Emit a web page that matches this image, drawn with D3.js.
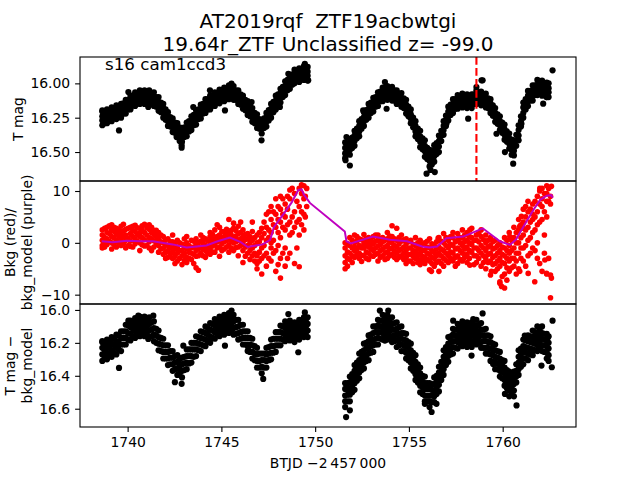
<!DOCTYPE html>
<html><head><meta charset="utf-8">
<script src="https://cdn.jsdelivr.net/npm/d3@7"></script>
<style>body{margin:0;background:#fff}text{font-family:"DejaVu Sans",sans-serif;white-space:pre}</style>
</head><body><svg id="c" width="640" height="480"></svg>
<script>
const titleLines = ["AT2019rqf  ZTF19acbwtgi", "19.64r_ZTF Unclassified z= -99.0"];
const panelNote = "s16 cam1ccd3";
const xTicks = [1740, 1745, 1750, 1755, 1760];
const topTicks = [16.00, 16.25, 16.50];
const midTicks = [-10, 0, 10];
const botTicks = [16.0, 16.2, 16.4, 16.6];
const xLabel = "BTJD \u22122\u2009457\u2009000";
const markerTime = 1758.6;

// top panel: T mag  [time, mag values...]
const tmag = [
[1738.65,16.205,16.24,16.27,16.305],[1738.90,16.19,16.225,16.26,16.29],[1739.15,16.175,16.21,16.245,16.275],
[1739.40,16.16,16.195,16.23,16.26],[1739.65,16.15,16.18,16.215,16.25],[1739.90,16.12,16.15,16.185,16.22],
[1740.15,16.09,16.12,16.155,16.19],[1740.40,16.065,16.10,16.13,16.165],[1740.65,16.05,16.085,16.12,16.15],
[1740.90,16.05,16.08,16.115,16.15],[1741.15,16.05,16.085,16.12,16.155],[1741.40,16.065,16.10,16.13,16.165],
[1741.65,16.10,16.135,16.165,16.20],[1741.90,16.15,16.18,16.215,16.25],[1742.15,16.21,16.245,16.275,16.31],
[1742.40,16.255,16.285,16.32,16.355],[1742.65,16.29,16.325,16.36,16.39],[1742.90,16.325,16.36,16.39,16.425],
[1743.15,16.285,16.32,16.35,16.385],[1743.40,16.24,16.275,16.305,16.34],[1743.65,16.195,16.23,16.265,16.30],
[1743.90,16.155,16.19,16.22,16.255],[1744.15,16.115,16.145,16.18,16.215],[1744.40,16.09,16.125,16.155,16.19],
[1744.65,16.065,16.095,16.13,16.165],[1744.90,16.045,16.08,16.11,16.145],[1745.15,16.03,16.06,16.095,16.13],
[1745.40,16.015,16.045,16.08,16.115],[1745.65,16.02,16.055,16.09,16.12],[1745.90,16.05,16.085,16.115,16.15],
[1746.15,16.09,16.12,16.155,16.185],[1746.40,16.13,16.165,16.195,16.23],[1746.65,16.18,16.21,16.245,16.28],
[1746.90,16.225,16.26,16.295,16.325],[1747.15,16.265,16.295,16.33,16.365],[1747.40,16.215,16.25,16.28,16.315],
[1747.65,16.15,16.185,16.215,16.25],[1747.90,16.09,16.125,16.16,16.19],[1748.15,16.04,16.07,16.105,16.14],
[1748.40,15.985,16.02,16.05,16.085],[1748.65,15.94,15.975,16.005,16.04],[1748.90,15.90,15.935,15.97,16.00],
[1749.15,15.89,15.92,15.955,15.99],[1749.40,15.875,15.91,15.945,15.975],[1749.60,15.88,15.915,15.945,15.98],
[1738.775,16.215,16.25,16.29],[1739.025,16.20,16.23,16.265],[1739.275,16.185,16.22,16.25],[1739.525,16.17,16.21,16.24],
[1739.775,16.145,16.19,16.22],[1740.025,16.12,16.15,16.19],[1740.275,16.09,16.13,16.16],[1740.525,16.07,16.11,16.14],
[1740.775,16.06,16.095,16.135],[1741.025,16.065,16.10,16.135],[1741.275,16.07,16.11,16.145],[1741.525,16.10,16.13,16.17],
[1741.775,16.14,16.175,16.21],[1742.025,16.19,16.23,16.265],[1742.275,16.245,16.28,16.315],[1742.525,16.285,16.32,16.36],
[1742.775,16.32,16.36,16.395,16.42],[1743.025,16.32,16.355,16.39],[1743.275,16.275,16.31,16.35],[1743.525,16.23,16.27,16.305],
[1743.775,16.19,16.225,16.26],[1744.025,16.15,16.185,16.22],[1744.275,16.115,16.15,16.19],[1744.525,16.09,16.125,16.16],
[1744.775,16.07,16.105,16.14],[1745.025,16.05,16.085,16.12],[1745.275,16.035,16.07,16.105],[1745.525,16.03,16.065,16.10],
[1745.775,16.05,16.085,16.12],[1746.025,16.08,16.12,16.155],[1746.275,16.12,16.16,16.195],[1746.525,16.17,16.205,16.24],
[1746.775,16.215,16.25,16.29],[1747.025,16.26,16.295,16.33],[1747.275,16.255,16.29,16.325],[1747.525,16.195,16.235,16.27],
[1747.775,16.135,16.17,16.21],[1748.025,16.08,16.115,16.15],[1748.275,16.025,16.06,16.10],[1748.525,15.975,16.01,16.05],
[1748.775,15.935,15.97,16.01],[1749.025,15.91,15.945,15.98],[1749.275,15.895,15.93,15.97],[1749.50,15.89,15.93,15.965],
[1751.60,16.43,16.47,16.51,16.545],[1751.85,16.405,16.445,16.485,16.52],[1752.10,16.345,16.38,16.42,16.455],
[1752.35,16.275,16.31,16.35,16.385],[1752.60,16.21,16.245,16.275,16.31],[1752.85,16.15,16.185,16.215,16.25],
[1753.10,16.105,16.14,16.17,16.205],[1753.35,16.065,16.095,16.13,16.165],[1753.60,16.03,16.06,16.095,16.13],
[1753.85,16.02,16.05,16.085,16.12],[1754.10,16.025,16.06,16.09,16.125],[1754.35,16.05,16.085,16.115,16.15],
[1754.60,16.07,16.105,16.135,16.17],[1754.85,16.12,16.155,16.185,16.22],[1755.10,16.19,16.225,16.255,16.29],
[1755.35,16.275,16.31,16.35,16.385],[1755.60,16.345,16.385,16.425,16.465],[1755.85,16.415,16.455,16.495,16.535],
[1756.10,16.485,16.525,16.565,16.605],[1756.35,16.45,16.49,16.53,16.57],[1756.60,16.38,16.42,16.46,16.50],
[1756.85,16.275,16.31,16.34,16.375],[1757.10,16.17,16.205,16.235,16.27],[1757.35,16.115,16.15,16.18,16.215],
[1757.60,16.085,16.12,16.15,16.185],[1757.85,16.075,16.11,16.14,16.175],[1758.10,16.08,16.11,16.145,16.18],
[1758.35,16.08,16.115,16.145,16.18],[1758.60,16.05,16.085,16.115,16.15],[1758.85,16.06,16.09,16.125,16.16],
[1759.10,16.075,16.11,16.14,16.175],[1759.35,16.115,16.145,16.18,16.215],[1759.60,16.18,16.215,16.245,16.28],
[1759.85,16.24,16.275,16.305,16.34],[1760.10,16.30,16.335,16.375,16.41],[1760.35,16.365,16.40,16.44,16.475],
[1760.60,16.415,16.45,16.49,16.525],[1760.85,16.305,16.34,16.38,16.415],[1761.10,16.14,16.175,16.215,16.25],
[1761.35,16.055,16.09,16.13,16.165],[1761.60,16.015,16.05,16.09,16.125],[1761.85,15.975,16.01,16.05,16.085],
[1762.10,15.98,16.015,16.055,16.09],[1762.35,15.995,16.03,16.065,16.10],[1762.45,16.00,16.035,16.065,16.10],
[1751.725,16.44,16.475,16.515],[1751.975,16.395,16.43,16.47],[1752.225,16.33,16.365,16.40],[1752.475,16.26,16.295,16.33],
[1752.725,16.195,16.23,16.265],[1752.975,16.14,16.18,16.215],[1753.225,16.10,16.135,16.17],[1753.475,16.06,16.095,16.13],
[1753.725,16.035,16.075,16.11],[1753.975,16.035,16.07,16.105],[1754.225,16.05,16.085,16.125],[1754.475,16.075,16.11,16.145],
[1754.725,16.11,16.145,16.18],[1754.975,16.17,16.205,16.24],[1755.225,16.25,16.285,16.32],[1755.475,16.33,16.37,16.405],
[1755.725,16.40,16.44,16.48],[1755.975,16.47,16.51,16.55],[1756.225,16.49,16.53,16.57,16.59],[1756.475,16.435,16.475,16.515],
[1756.725,16.345,16.38,16.42],[1756.975,16.235,16.27,16.31],[1757.225,16.155,16.19,16.23],[1757.475,16.115,16.15,16.185],
[1757.725,16.095,16.13,16.165],[1757.975,16.09,16.125,16.165],[1758.225,16.095,16.13,16.165],[1758.475,16.08,16.115,16.15],
[1758.725,16.07,16.105,16.14],[1758.975,16.08,16.115,16.15],[1759.225,16.11,16.145,16.18],[1759.475,16.16,16.195,16.235],
[1759.725,16.225,16.26,16.295],[1759.975,16.285,16.32,16.36],[1760.225,16.35,16.39,16.425],[1760.475,16.41,16.445,16.485,16.52],
[1760.725,16.375,16.415,16.455],[1760.975,16.24,16.275,16.315],[1761.225,16.115,16.15,16.19],[1761.475,16.055,16.09,16.125],
[1761.725,16.015,16.05,16.085],[1761.975,15.995,16.03,16.07],[1762.225,16.005,16.04,16.08],
[1739.54,16.343],[1742.88,16.45],[1758.93,15.978],[1762.66,15.905],[1751.62,16.56],[1756.15,16.63],
[1738.65,16.197],[1740.04,16.063],[1741.10,16.172],[1742.61,16.391],[1742.88,16.469],[1743.50,16.172],
[1744.39,16.051],[1745.19,16.197],[1745.54,16.002],[1746.61,16.136],[1746.70,16.27],[1747.14,16.415],
[1747.41,16.245],[1748.12,16.172],[1748.57,15.93],[1749.45,15.857],[1749.63,15.978],
[1751.67,16.391],[1751.85,16.598],[1752.56,16.197],[1753.72,15.99],[1753.81,16.185],[1755.05,16.233],
[1755.94,16.658],[1756.38,16.646],[1756.65,16.391],[1757.00,16.294],[1758.07,16.172],[1758.16,16.257],
[1758.87,15.978],[1758.60,16.027],[1759.67,16.367],[1760.12,16.50],[1760.56,16.585],[1761.00,16.294],
[1762.16,16.148],[1762.34,16.10]
];

// middle panel: background (red)  [time, values...]
const bkg = [
[1738.65,1.5,0.5,-0.5,2.5,-1.0],[1738.90,0.8,2.0,-0.3,3.0],[1739.15,1.2,0.0,2.5,-1.2,3.5],
[1739.40,0.5,1.8,-0.8,2.8],[1739.65,1.0,3.2,-0.5,0.2,2.0],[1739.90,0.5,1.5,-1.0,2.6],
[1740.15,1.8,0.3,3.0,-0.7],[1740.40,0.8,2.2,-0.2,3.4],[1740.65,1.2,0.0,2.8,-1.5,1.9],
[1740.90,0.6,2.0,-0.6,3.6],[1741.15,1.0,0.2,2.6,-1.0,3.5],[1741.40,0.4,1.6,-0.8,2.4],
[1741.65,-0.5,1.0,0.5,2.0,-1.8],[1741.90,-1.0,0.0,-2.2,1.2],[1742.15,-1.5,-0.5,0.8,-2.8],
[1742.40,-1.8,-0.8,0.2,-3.0,1.5],[1742.65,-2.0,-1.0,-3.5,0.5],[1742.90,-1.5,-2.5,-0.3,-4.2],
[1743.15,-1.2,-2.8,0.0,-3.8,1.2],[1743.40,-1.0,-2.0,0.5,-3.2],[1743.65,-1.5,-0.2,-2.6,-4.8,0.8],
[1743.90,-0.8,-2.0,0.3,1.5],[1744.15,-0.5,-1.5,0.8,-2.8],[1744.40,0.0,-1.2,1.2,-2.2,2.0],
[1744.65,-0.3,0.8,-1.8,2.5],[1744.90,0.5,-0.8,1.5,-2.6,3.0],[1745.15,0.2,1.2,-1.2,2.2],
[1745.40,0.8,-0.4,2.0,-1.8,4.5],[1745.65,1.0,0.0,2.8,-1.5,3.8],[1745.90,0.5,1.8,-0.8,3.2,-2.5],
[1746.15,0.0,1.2,-1.5,2.5,-3.8],[1746.40,-0.5,0.8,-2.0,1.8],[1746.65,-1.0,0.5,-2.5,2.2,4.0],
[1746.90,-2.5,0.0,-4.0,1.5,-5.0],[1747.15,-1.0,1.0,-3.0,2.8,-6.0],[1747.40,0.5,-2.0,3.0,-4.5,5.5],
[1747.65,2.0,-1.0,4.5,-3.5,7.0,0.0],[1747.90,3.0,5.5,-1.5,8.5,-5.5],[1748.15,1.0,4.0,6.5,-3.0,9.0,-6.8],
[1748.40,2.5,5.0,-1.0,7.5,-4.5],[1748.65,4.0,8.5,1.5,10.2,-2.0],[1748.90,6.0,9.5,3.0,-4.0],
[1749.15,7.0,10.5,4.5,1.5,-4.6],[1749.40,8.5,11.0,5.5,2.5],[1749.55,10.5,7.0],
[1738.775,1.0,2.8,-0.8,0.0],[1739.025,1.8,0.3,3.3],[1739.275,2.2,-0.3,1.0,3.0],[1739.525,0.0,2.5,1.3],
[1739.775,2.3,-0.2,1.2,3.6],[1740.025,0.9,2.8,-0.5],[1740.275,2.4,1.2,-0.8,3.2],[1740.525,0.3,1.6,2.9],
[1740.775,2.4,-0.4,1.0,3.3],[1741.025,1.5,-0.5,2.9],[1741.275,0.8,2.0,-1.5,3.0],[1741.525,1.2,-0.2,2.4],
[1741.775,0.2,-1.2,1.5],[1742.025,-0.4,-1.8,0.6,-3.0],[1742.275,-1.0,-2.2,0.2],[1742.525,-1.2,-2.6,-0.2,-4.0],
[1742.775,-1.5,-3.0,0.0],[1743.025,-2.0,-0.8,-3.4,0.8],[1743.275,-1.8,-0.5,-3.0],[1743.525,-2.2,-0.8,0.3,-4.0],
[1743.775,-1.2,-2.5,0.0,-5.3],[1744.025,-1.2,0.0,-2.5,1.0],[1744.275,-0.8,0.4,-2.0],[1744.525,-0.6,0.6,-1.8,1.6],
[1744.775,0.2,-1.0,1.2,3.5],[1745.025,-0.2,0.9,-1.5,2.2],[1745.275,0.5,1.6,-0.8,2.6],[1745.525,0.4,1.5,-1.0,2.4],
[1745.775,1.3,0.2,2.4,-0.9],[1746.025,0.8,-0.5,2.0,4.0],[1746.275,-0.8,0.6,-2.6,1.6],[1746.525,-1.5,0.0,-3.2,1.2],
[1746.775,-2.0,-0.5,1.0,-3.5],[1747.025,-1.8,0.2,-3.5,2.0],[1747.275,-0.5,1.8,-2.5,4.0],[1747.525,1.0,-3.0,2.5,6.0],
[1747.775,0.5,3.5,-2.0,6.0],[1748.025,2.0,7.0,-0.5,4.5,-4.2],[1748.275,3.0,8.5,-2.0,5.5],[1748.525,3.5,6.5,9.0,-3.0],
[1748.775,5.0,2.0,10.5],[1749.025,8.0,4.0,-1.0],[1749.275,9.5,6.0,3.5,11.2],[1749.475,9.0,5.0],
[1751.60,-1.0,-2.5,0.0,-3.8,-5.0],[1751.85,-0.5,-2.0,1.0,-3.2],[1752.10,0.0,-1.5,1.5,-2.8,-0.8],
[1752.35,-0.5,-2.0,0.8,-3.0],[1752.60,0.5,-1.0,-2.5,1.6,-0.2],[1752.85,-0.8,0.2,-2.0,1.0,-3.2],
[1753.10,-0.2,-1.5,1.2,-2.6],[1753.35,-0.6,0.5,-2.0,1.5,-3.5],[1753.60,0.2,-1.2,-2.5,1.0],
[1753.85,-0.5,0.8,-1.8,2.0,-3.0],[1754.10,-1.0,0.0,-2.2,1.2,3.3],[1754.35,-0.8,-2.0,0.5,-3.2,2.8],
[1754.60,-1.2,0.3,-2.5,1.5],[1754.85,-1.5,-0.2,-2.8,0.8,-4.0],[1755.10,-1.0,-2.2,0.5,-3.5],
[1755.35,-1.8,-0.5,-3.0,1.0],[1755.60,-2.0,-0.8,-3.3,0.5,-4.2],[1755.85,-1.5,-2.8,0.0,-4.0],
[1756.10,-2.2,-1.0,-3.5,0.8,-5.2],[1756.35,-1.8,-3.0,-0.5,-4.5],[1756.60,-2.0,-0.8,-3.5,1.0,-5.5],
[1756.85,-1.5,-3.0,0.0,-4.5,1.8],[1757.10,-1.0,-2.5,0.5,-3.8],[1757.35,-0.5,-2.0,1.0,-3.5,2.0],
[1757.60,-1.0,0.5,-2.5,1.8,-4.0],[1757.85,-0.5,1.0,-2.0,2.5,-3.5],[1758.10,-0.8,0.5,-2.2,2.0,-3.8],
[1758.35,-0.3,1.0,-1.8,2.8],[1758.60,-1.0,0.5,-2.5,1.5,-3.8],[1758.85,-0.5,1.2,-2.0,2.5,-4.5],
[1759.10,-1.5,0.0,-3.0,1.5,-5.0],[1759.35,-2.0,-0.5,-3.5,1.0,-6.2],[1759.60,-2.5,-1.0,-4.0,0.5,-5.5],
[1759.85,-3.0,-1.5,-4.5,0.0,-7.5],[1760.10,-2.5,-1.0,-4.0,1.0,-8.7,-6.0],[1760.35,-2.0,-0.5,-3.5,2.0,-5.5],
[1760.60,-1.0,1.0,-3.0,3.0,-4.5],[1760.85,0.0,2.5,-2.0,4.5,-5.0],[1761.10,1.5,4.0,-1.0,6.5,-3.5,2.8],
[1761.35,3.0,6.0,0.5,8.0,-2.5],[1761.60,4.5,7.5,2.0,-1.0,5.5],[1761.85,6.0,9.0,3.5,0.0,-3.0],
[1762.10,7.0,10.5,4.5,-5.5,8.5],[1762.35,8.0,11.0,5.0,-6.0,9.5],[1762.55,9.0,7.5,-10.6,-6.2],
[1751.725,-1.8,-0.2,-3.0,-4.5],[1751.975,-1.0,0.5,-2.5,-3.8],[1752.225,-1.2,0.3,-2.2,1.2],[1752.475,-1.0,0.6,-2.4,-3.6],
[1752.725,-0.5,-1.8,0.8,-3.0],[1752.975,-1.2,0.5,-2.5,-0.3],[1753.225,-1.0,0.3,-2.2,1.5],[1753.475,-1.5,-0.3,-2.8,0.8],
[1753.725,-0.8,0.5,-2.0,-3.2],[1753.975,-1.2,0.2,-2.5,1.3],[1754.225,-0.5,-1.6,0.8,-2.8],[1754.475,-1.5,-0.2,-2.8,1.0],
[1754.725,-0.8,-2.0,0.6,-3.2],[1754.975,-1.0,-2.3,0.2,-3.5],[1755.225,-1.5,-0.3,-2.6,-4.0],[1755.475,-1.2,-2.5,0.0,-3.8],
[1755.725,-1.5,-2.6,-0.3,-3.6],[1755.975,-2.0,-0.8,-3.2,0.3],[1756.225,-1.5,-2.8,-0.2,-4.0],[1756.475,-2.5,-1.2,-3.8,0.2],
[1756.725,-1.2,-2.5,0.3,-4.0],[1756.975,-2.0,-0.5,-3.4,1.0],[1757.225,-1.8,-0.3,-3.0,1.2],[1757.475,-1.2,0.2,-2.8,-4.5],
[1757.725,-1.5,0.0,-3.2,1.0],[1757.975,-1.2,0.2,-2.8,1.5],[1758.225,-1.5,0.0,-3.0,1.2],[1758.475,-1.0,0.5,-2.5,-4.2],
[1758.725,-1.5,0.2,-3.0,1.8],[1758.975,-1.0,-2.5,0.6,-3.8],[1759.225,-2.2,-0.8,-3.8,0.5],[1759.475,-2.8,-1.2,-4.2,0.2],
[1759.725,-2.0,-3.5,-0.5,-5.0],[1759.975,-2.2,-3.8,-0.8,-6.5],[1760.225,-3.0,-1.5,-4.8,0.5,-7.2],[1760.475,-1.5,-3.0,0.5,-4.8],
[1760.725,-2.0,0.0,2.0,-3.5,-6.0],[1760.975,1.0,-1.0,3.5,-3.0],[1761.225,2.5,5.0,-0.5,7.0,-4.5],[1761.475,4.0,1.0,6.5,-2.0],
[1761.725,5.0,8.0,2.5,-1.5],[1761.975,7.5,4.0,10.0,-4.0],[1762.225,9.5,6.0,1.5,-2.0],[1762.45,10.5,8.0,-3.0],
[1759.85,-7.8],[1759.94,-8.4],[1761.98,10.5],[1762.60,10.9],[1762.25,-3.3],[1762.34,-5.9],[1762.60,-6.8],
[1761.71,-7.5],[1760.91,-5.5],[1761.36,-5.9],[1761.00,5.1],[1760.91,3.2],[1760.38,1.2],[1758.25,2.5],
[1756.56,0.9],[1759.40,-5.5],[1758.25,-4.3],[1756.20,-5.5]
];

// middle panel: background model (purple)
const bkgModelTime = [1738.62,1739.2,1739.95,1740.66,1741.35,1742.4,1743.15,1743.68,1744.2,1744.8,1745.46,1746.0,1746.4,1747.2,1747.6,1747.8,1748.3,1748.75,1749.1,1749.28,1749.4,1749.72,1751.58,1751.67,1751.9,1753.08,1754.0,1754.9,1755.7,1756.1,1756.5,1757.0,1757.9,1758.94,1759.3,1759.85,1760.38,1760.7,1761.27,1761.7,1762.0,1762.35,1762.6,1762.67];
const bkgModel =     [0.3,0.1,0.4,0.3,0.3,-0.3,-0.9,-0.7,-0.5,0.3,1.0,0.2,-0.8,-0.3,0.6,3.0,5.5,7.8,10.2,10.3,9.3,7.7,2.2,0.3,-0.1,1.2,0.6,0.3,-0.7,-0.9,-0.7,0.9,1.2,2.8,1.8,0.3,-0.4,0.6,4.1,6.7,8.3,9.1,9.2,8.7];

// bottom panel: T mag - bkg_model
const tmagCorr = [
[1738.65,16.19,16.23,16.27,16.31],[1738.90,16.18,16.22,16.26,16.30],[1739.15,16.165,16.205,16.245,16.285],
[1739.40,16.15,16.19,16.23,16.27],[1739.65,16.13,16.17,16.21,16.25],[1739.90,16.09,16.13,16.17,16.21],
[1740.15,16.065,16.105,16.145,16.185],[1740.40,16.05,16.09,16.13,16.17],[1740.65,16.04,16.08,16.12,16.16],
[1740.90,16.04,16.08,16.12,16.16],[1741.15,16.045,16.085,16.125,16.165],[1741.40,16.07,16.11,16.15,16.19],
[1741.65,16.125,16.165,16.205,16.245],[1741.90,16.175,16.215,16.255,16.295],[1742.15,16.215,16.255,16.295,16.335],
[1742.40,16.25,16.29,16.33,16.37],[1742.65,16.275,16.315,16.355,16.395],[1742.90,16.29,16.33,16.37,16.41],
[1743.15,16.24,16.28,16.32,16.36],[1743.40,16.20,16.24,16.28,16.32],[1743.65,16.16,16.20,16.24,16.28],
[1743.90,16.13,16.17,16.21,16.25],[1744.15,16.10,16.14,16.18,16.22],[1744.40,16.08,16.12,16.16,16.20],
[1744.65,16.055,16.095,16.135,16.175],[1744.90,16.04,16.08,16.12,16.16],[1745.15,16.03,16.07,16.11,16.15],
[1745.40,16.02,16.06,16.10,16.14],[1745.65,16.03,16.07,16.11,16.15],[1745.90,16.06,16.10,16.14,16.18],
[1746.15,16.09,16.13,16.17,16.21],[1746.40,16.13,16.17,16.21,16.25],[1746.65,16.175,16.215,16.255,16.295],
[1746.90,16.23,16.27,16.31,16.35],[1747.15,16.265,16.305,16.345,16.385],[1747.40,16.23,16.27,16.31,16.35],
[1747.65,16.18,16.22,16.26,16.30],[1747.90,16.135,16.175,16.215,16.255],[1748.15,16.095,16.135,16.175,16.215],
[1748.40,16.07,16.11,16.15,16.19],[1748.65,16.065,16.105,16.145,16.185],[1748.90,16.075,16.115,16.155,16.195],
[1749.15,16.06,16.10,16.14,16.18],[1749.40,16.045,16.085,16.125,16.165],[1749.60,16.045,16.085,16.125,16.165],
[1738.775,16.205,16.245,16.285],[1739.025,16.19,16.23,16.27],[1739.275,16.175,16.215,16.26],[1739.525,16.155,16.20,16.24],
[1739.775,16.13,16.17,16.21],[1740.025,16.095,16.14,16.18],[1740.275,16.075,16.115,16.16],[1740.525,16.065,16.105,16.145],
[1740.775,16.06,16.10,16.14],[1741.025,16.06,16.10,16.145],[1741.275,16.075,16.12,16.16],[1741.525,16.115,16.155,16.20],
[1741.775,16.17,16.21,16.25],[1742.025,16.215,16.255,16.295],[1742.275,16.25,16.29,16.33],[1742.525,16.28,16.32,16.36],
[1742.775,16.30,16.34,16.385],[1743.025,16.285,16.325,16.365],[1743.275,16.24,16.28,16.325],[1743.525,16.20,16.24,16.285],
[1743.775,16.165,16.205,16.245],[1744.025,16.135,16.175,16.215],[1744.275,16.11,16.15,16.19],[1744.525,16.085,16.125,16.17],
[1744.775,16.07,16.11,16.15],[1745.025,16.05,16.095,16.135],[1745.275,16.045,16.085,16.125],[1745.525,16.045,16.085,16.13],
[1745.775,16.06,16.105,16.145],[1746.025,16.09,16.135,16.175],[1746.275,16.13,16.17,16.21],[1746.525,16.17,16.21,16.255],
[1746.775,16.22,16.265,16.305],[1747.025,16.265,16.31,16.35],[1747.275,16.265,16.305,16.35],[1747.525,16.225,16.265,16.305],
[1747.775,16.175,16.22,16.26],[1748.025,16.135,16.175,16.215],[1748.275,16.10,16.14,16.18],[1748.525,16.085,16.125,16.17],
[1748.775,16.09,16.13,16.17],[1749.025,16.085,16.125,16.17],[1749.275,16.07,16.115,16.155],[1749.50,16.065,16.105,16.145],
[1751.60,16.445,16.48,16.52,16.555,16.59],[1751.85,16.405,16.44,16.48,16.515,16.555],[1752.10,16.335,16.37,16.41,16.445,16.485],
[1752.35,16.265,16.305,16.34,16.38,16.415],[1752.60,16.205,16.245,16.28,16.32,16.355],[1752.85,16.155,16.19,16.23,16.265,16.305],
[1753.10,16.10,16.14,16.18,16.215,16.255],[1753.35,16.06,16.095,16.135,16.17,16.21],[1753.60,16.03,16.065,16.105,16.14,16.18],
[1753.85,16.03,16.07,16.105,16.145,16.18],[1754.10,16.045,16.085,16.12,16.16,16.195],[1754.35,16.075,16.115,16.15,16.185,16.225],
[1754.60,16.10,16.14,16.175,16.21,16.25],[1754.85,16.145,16.185,16.22,16.26,16.295],[1755.10,16.205,16.245,16.28,16.32,16.355],
[1755.35,16.275,16.315,16.35,16.39,16.425],[1755.60,16.35,16.385,16.425,16.46,16.50],[1755.85,16.405,16.445,16.48,16.52,16.555],
[1756.10,16.445,16.48,16.52,16.555,16.59],[1756.35,16.41,16.45,16.49,16.525,16.56],[1756.60,16.345,16.38,16.42,16.455,16.495],
[1756.85,16.245,16.285,16.32,16.36,16.395],[1757.10,16.165,16.205,16.24,16.28,16.315],[1757.35,16.115,16.15,16.19,16.225,16.265],
[1757.60,16.085,16.12,16.16,16.195,16.235],[1757.85,16.07,16.105,16.145,16.18,16.22],[1758.10,16.075,16.115,16.15,16.19,16.225],
[1758.35,16.075,16.115,16.15,16.19,16.225],[1758.60,16.06,16.10,16.135,16.175,16.21],[1758.85,16.08,16.12,16.155,16.195,16.23],
[1759.10,16.115,16.155,16.19,16.23,16.265],[1759.35,16.16,16.195,16.235,16.27,16.31],[1759.60,16.21,16.245,16.285,16.32,16.36],
[1759.85,16.255,16.295,16.33,16.37,16.405],[1760.10,16.31,16.35,16.385,16.425,16.46],[1760.35,16.375,16.415,16.45,16.49,16.525],
[1760.60,16.375,16.415,16.45,16.49,16.525],[1760.85,16.245,16.285,16.32,16.36,16.395],[1761.10,16.18,16.22,16.255,16.295,16.33],
[1761.35,16.155,16.19,16.23,16.265,16.305],[1761.60,16.125,16.165,16.20,16.24,16.275],[1761.85,16.10,16.14,16.175,16.215,16.25],
[1762.10,16.10,16.14,16.175,16.215,16.25],[1762.35,16.145,16.185,16.22,16.26,16.295],[1762.45,16.16,16.20,16.235,16.275,16.31],
[1751.725,16.445,16.48,16.515,16.555],[1751.975,16.39,16.425,16.46,16.50],[1752.225,16.32,16.36,16.395,16.43],
[1752.475,16.255,16.295,16.33,16.365],[1752.725,16.20,16.235,16.275,16.31],[1752.975,16.15,16.185,16.22,16.26],
[1753.225,16.10,16.135,16.175,16.21],[1753.475,16.065,16.10,16.135,16.175],[1753.725,16.05,16.085,16.12,16.16],
[1753.975,16.06,16.095,16.13,16.17],[1754.225,16.08,16.12,16.155,16.19],[1754.475,16.105,16.145,16.18,16.215],
[1754.725,16.14,16.18,16.215,16.25],[1754.975,16.195,16.23,16.27,16.305],[1755.225,16.26,16.295,16.335,16.37],
[1755.475,16.33,16.37,16.405,16.44],[1755.725,16.40,16.435,16.47,16.51],[1755.975,16.445,16.48,16.52,16.555],
[1756.225,16.45,16.485,16.52,16.56],[1756.475,16.40,16.435,16.47,16.51],[1756.725,16.315,16.35,16.39,16.425],
[1756.975,16.225,16.26,16.30,16.335],[1757.225,16.16,16.195,16.235,16.27],[1757.475,16.12,16.155,16.19,16.23],
[1757.725,16.095,16.135,16.17,16.205],[1757.975,16.09,16.13,16.165,16.20],[1758.225,16.095,16.13,16.17,16.205],
[1758.475,16.09,16.125,16.16,16.20],[1758.725,16.09,16.13,16.165,16.20],[1758.975,16.12,16.155,16.19,16.23],
[1759.225,16.155,16.195,16.23,16.265],[1759.475,16.205,16.24,16.275,16.315],[1759.725,16.25,16.29,16.325,16.36],
[1759.975,16.305,16.34,16.375,16.415],[1760.225,16.365,16.40,16.435,16.475],[1760.475,16.395,16.435,16.47,16.505],
[1760.725,16.33,16.37,16.405,16.44],[1760.975,16.235,16.27,16.305,16.345],[1761.225,16.185,16.225,16.26,16.295],
[1761.475,16.16,16.195,16.235,16.27],[1761.725,16.135,16.17,16.205,16.245],[1761.975,16.12,16.16,16.195,16.23],
[1762.225,16.145,16.18,16.215,16.255],
[1751.65,16.651],[1758.43,16.055],[1758.93,16.021],[1762.66,16.065],[1762.62,16.348],[1739.54,16.352],
[1738.65,16.196],[1740.04,16.065],[1740.57,16.035],[1741.37,16.035],[1741.10,16.176],[1742.52,16.439],
[1742.88,16.449],[1742.97,16.217],[1745.19,16.217],[1745.54,16.004],[1745.10,16.105],[1746.43,16.227],
[1747.23,16.419],[1748.57,16.025],[1749.10,16.257],[1749.45,16.015],
[1751.85,16.61],[1753.45,16.004],[1753.90,16.004],[1753.72,16.186],[1755.85,16.57],[1756.21,16.62],
[1756.47,16.57],[1757.36,16.065],[1758.34,16.277],[1759.49,16.328],[1760.12,16.51],[1760.74,16.58],
[1761.18,16.156],[1762.07,16.338],[1762.42,16.166]
];

const svg = d3.select("#c");
const L = 80, R = 576;
const x = d3.scaleLinear().domain([1737.46, 1763.91]).range([L, R]);
const yTop = d3.scaleLinear().domain([15.808, 16.711]).range([57, 181]);
const yMid = d3.scaleLinear().domain([11.93, -11.8]).range([181, 304]);
const yBot = d3.scaleLinear().domain([15.964, 16.711]).range([304, 427]);

const flat = rows => rows.flatMap(r => r.slice(1).map(v => [r[0], v]));

function panel(id, y0, y1) {
  svg.append("clipPath").attr("id", id).append("rect")
    .attr("x", L).attr("y", y0).attr("width", R - L).attr("height", y1 - y0);
  return svg.append("g").attr("clip-path", `url(#${id})`);
}

// top
const gTop = panel("cTop", 57, 181);
gTop.selectAll("circle").data(flat(tmag)).join("circle")
  .attr("cx", d => x(d[0])).attr("cy", d => yTop(d[1])).attr("r", 3.1).attr("fill", "#000");
gTop.append("line").attr("x1", x(markerTime)).attr("x2", x(markerTime)).attr("y1", 57).attr("y2", 181)
  .attr("stroke", "#ff0000").attr("stroke-width", 2.1).attr("stroke-dasharray", "7.7,3.3");

// middle
const gMid = panel("cMid", 181, 304);
gMid.selectAll("circle").data(flat(bkg)).join("circle")
  .attr("cx", d => x(d[0])).attr("cy", d => yMid(d[1])).attr("r", 2.8).attr("fill", "#ff0000");
gMid.append("path").datum(bkgModelTime.map((t, i) => [t, bkgModel[i]]))
  .attr("d", d3.line().x(d => x(d[0])).y(d => yMid(d[1])))
  .attr("fill", "none").attr("stroke", "#bf00bf").attr("stroke-width", 2);

// bottom
const gBot = panel("cBot", 304, 427);
gBot.selectAll("circle").data(flat(tmagCorr)).join("circle")
  .attr("cx", d => x(d[0])).attr("cy", d => yBot(d[1])).attr("r", 3.1).attr("fill", "#000");

// axes
function styleAxis(g) {
  g.selectAll("text").attr("font-size", "13.9px").attr("font-family", "DejaVu Sans").attr("fill", "#000");
  g.selectAll("line").attr("stroke", "#000").attr("stroke-width", 1.1);
  g.select(".domain").remove();
}
svg.append("g").attr("transform", `translate(${L},0)`)
  .call(d3.axisLeft(yTop).tickValues(topTicks).tickFormat(d3.format(".2f")).tickSize(4.9).tickPadding(4.9)).call(styleAxis);
svg.append("g").attr("transform", `translate(${L},0)`)
  .call(d3.axisLeft(yMid).tickValues(midTicks).tickFormat(d3.format("d")).tickSize(4.9).tickPadding(4.9)).call(styleAxis);
svg.append("g").attr("transform", `translate(${L},0)`)
  .call(d3.axisLeft(yBot).tickValues(botTicks).tickFormat(d3.format(".1f")).tickSize(4.9).tickPadding(4.9)).call(styleAxis);
svg.append("g").attr("transform", `translate(0,427)`)
  .call(d3.axisBottom(x).tickValues(xTicks).tickFormat(d3.format("d")).tickSize(4.9).tickPadding(4.9)).call(styleAxis);

// frames
[[57, 181], [181, 304], [304, 427]].forEach(([a, b]) => {
  svg.append("rect").attr("x", L).attr("y", a).attr("width", R - L).attr("height", b - a)
    .attr("fill", "none").attr("stroke", "#000").attr("stroke-width", 1.1);
});

// texts
svg.append("text").attr("x", 328).attr("y", 27.5).attr("text-anchor", "middle").attr("font-size", "20px").text(titleLines[0]);
svg.append("text").attr("x", 328).attr("y", 51).attr("text-anchor", "middle").attr("font-size", "20px").text(titleLines[1]);
svg.append("text").attr("x", 105).attr("y", 70).attr("font-size", "16.7px").text(panelNote);
svg.append("text").attr("x", 328).attr("y", 468).attr("text-anchor", "middle").attr("font-size", "13.9px").text(xLabel);

function ylab(lines, cy) {
  const t = svg.append("text").attr("transform", `translate(0,${cy}) rotate(-90)`).attr("text-anchor", "middle")
    .attr("font-size", "13.9px");
  const xs = lines.length === 1 ? [18] : [10, 26.5];
  lines.forEach((s, i) => t.append("tspan").attr("x", 0).attr("y", xs[i]).attr("dominant-baseline", "central").text(s));
}
ylab(["T mag"], 119);
ylab(["Bkg (red)/", "bkg_model (purple)"], 242.5);
ylab(["T mag \u2212", "bkg_model"], 365.5);
</script></body></html>
